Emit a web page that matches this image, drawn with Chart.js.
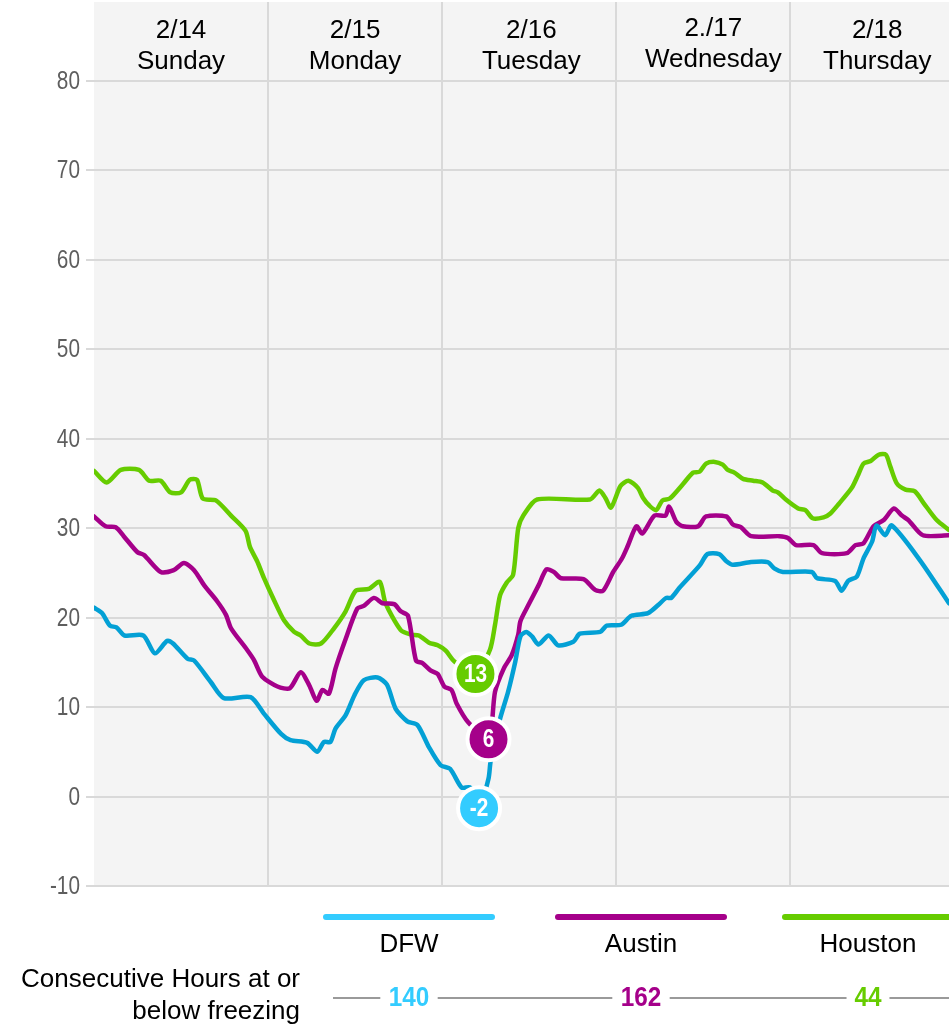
<!DOCTYPE html>
<html>
<head>
<meta charset="utf-8">
<script src="https://cdn.jsdelivr.net/npm/chart.js@4.4.1/dist/chart.umd.min.js"></script>
<style>
  body { margin: 0; background: #fff; }
  #wrap { width: 949px; height: 1028px; position: relative; }
</style>
</head>
<body>
<div id="wrap"><canvas id="chart"></canvas></div>
<script>
// hours since midnight 2/14, temperature in F
const dfwHours = [0, 1.1, 2.2, 3.1, 4.2, 6.8, 8.4, 10.1, 10.9, 12.9, 13.8, 16.1, 17.9, 21.6, 23.4, 25.8, 27.1, 29.4, 30.8, 31.7, 32.6, 33.3, 34.7, 35.9, 37.2, 39.1, 40.4, 41.6, 43.2, 44.6, 46.2, 47.8, 49.1, 50.7, 51.9, 53.1, 54.4, 54.7, 56.0, 57.1, 58.1, 58.8, 59.6, 60.4, 61.3, 62.7, 64.0, 66.1, 67.0, 69.8, 70.7, 72.7, 74.1, 76.4, 77.8, 78.9, 79.6, 80.7, 83.5, 84.6, 86.2, 87.2, 88.1, 90.6, 92.9, 93.8, 95.0, 99.0, 99.7, 102.2, 103.1, 104.0, 105.2, 106.1, 107.3, 107.9, 109.1, 110.0, 113.9, 117.9];
const dfwTemps = [21.1, 20.5, 19.1, 18.9, 18.0, 18.0, 16.0, 17.4, 17.1, 15.4, 15.2, 12.8, 11.0, 11.1, 9.3, 7.0, 6.3, 6.0, 5.0, 6.1, 6.1, 7.6, 9.1, 11.3, 13.0, 13.3, 12.5, 9.8, 8.4, 8.0, 5.5, 3.5, 3.1, 1.0, 1.0, -1.3, 2.0, 4.0, 8.7, 11.7, 15.1, 17.9, 18.4, 17.9, 17.0, 18.0, 16.9, 17.3, 18.2, 18.4, 19.1, 19.2, 20.2, 20.5, 21.4, 22.2, 22.2, 23.3, 25.8, 27.1, 27.1, 26.3, 25.9, 26.2, 26.2, 25.5, 25.1, 25.1, 24.4, 24.1, 23.0, 24.1, 24.6, 26.6, 28.5, 30.3, 29.2, 30.3, 26.4, 21.6];

const austinHours = [0, 1.6, 3.0, 4.1, 6.0, 6.9, 9.2, 11.0, 12.4, 13.8, 15.2, 17.0, 18.2, 18.9, 21.1, 22.1, 23.2, 25.3, 27.0, 28.5, 29.7, 30.7, 31.5, 32.4, 33.3, 34.7, 36.3, 37.2, 38.6, 39.8, 41.4, 42.3, 43.3, 44.4, 45.3, 46.4, 47.4, 48.3, 49.3, 50.0, 51.6, 54.4, 55.3, 56.5, 57.6, 58.5, 58.8, 59.9, 61.3, 62.4, 63.4, 64.4, 67.5, 69.1, 70.2, 71.6, 72.8, 73.6, 74.8, 75.6, 77.3, 78.8, 79.3, 80.3, 81.2, 83.3, 84.4, 87.2, 88.1, 89.2, 90.6, 94.5, 95.7, 96.8, 99.2, 100.4, 103.8, 105.0, 106.1, 107.5, 108.9, 110.3, 111.4, 112.3, 114.3, 117.9];
const austinTemps = [31.3, 30.2, 30.1, 29.1, 27.3, 27.0, 25.1, 25.3, 26.1, 25.3, 23.6, 21.8, 20.3, 18.8, 16.4, 15.2, 13.4, 12.3, 12.1, 13.9, 12.4, 10.7, 11.9, 11.5, 14.3, 17.6, 21.0, 21.3, 22.2, 21.6, 21.5, 20.7, 20.2, 15.2, 14.9, 14.1, 13.7, 12.3, 11.9, 10.4, 8.3, 6.4, 11.7, 14.3, 15.8, 18.1, 19.6, 21.4, 23.6, 25.4, 25.1, 24.4, 24.3, 23.1, 23.0, 25.1, 26.6, 28.0, 30.2, 29.4, 31.4, 31.4, 32.4, 30.7, 30.2, 30.2, 31.3, 31.3, 30.4, 30.1, 29.1, 29.1, 28.9, 28.1, 28.1, 27.2, 27.2, 28.1, 28.3, 30.2, 30.9, 32.2, 31.4, 30.9, 29.2, 29.2];

const houstonHours = [0, 1.75, 3.7, 6.2, 7.6, 9.2, 10.5, 12.0, 13.2, 14.2, 15.0, 16.8, 18.9, 20.9, 21.5, 22.5, 23.4, 24.8, 26.2, 27.6, 28.5, 29.7, 31.3, 33.1, 34.7, 36.1, 37.9, 39.4, 40.2, 42.3, 43.7, 44.8, 46.2, 47.4, 48.5, 49.7, 52.6, 54.6, 55.3, 56.0, 56.9, 57.8, 58.5, 59.2, 61.1, 68.4, 69.7, 70.5, 71.3, 72.6, 73.7, 75.0, 75.7, 76.6, 77.5, 78.4, 79.4, 81.2, 82.6, 83.5, 84.4, 85.6, 86.7, 87.4, 88.3, 89.5, 90.9, 92.2, 93.6, 94.3, 95.4, 97.1, 98.1, 99.1, 100.6, 101.5, 102.7, 104.5, 105.4, 106.1, 107.1, 108.2, 109.2, 109.8, 110.7, 111.9, 113.2, 114.4, 116.2, 117.9];
const houstonTemps = [36.4, 35.1, 36.5, 36.5, 35.3, 35.3, 34.0, 34.0, 35.4, 35.4, 33.3, 33.1, 31.4, 29.7, 27.9, 26.3, 24.5, 22.0, 19.7, 18.4, 18.0, 17.1, 17.1, 18.8, 20.7, 23.0, 23.2, 24.0, 21.6, 18.6, 18.1, 18.0, 17.2, 16.9, 16.3, 15.1, 13.7, 16.4, 19.2, 22.5, 23.9, 24.8, 30.0, 31.4, 33.2, 33.2, 34.2, 33.4, 32.3, 34.7, 35.3, 34.5, 33.4, 32.5, 32.0, 33.1, 33.3, 34.9, 36.2, 36.3, 37.2, 37.4, 37.1, 36.5, 36.2, 35.5, 35.3, 35.1, 34.2, 34.0, 33.2, 32.2, 32.0, 31.1, 31.2, 31.6, 32.7, 34.5, 36.0, 37.2, 37.5, 38.2, 38.2, 36.9, 35.0, 34.3, 34.1, 32.8, 30.9, 29.8];

const cityNames = ['DFW', 'Austin', 'Houston'];
const lowLabels = ['-2', '6', '13'];
const freezeHours = [140, 162, 44];
const dayLabels = [['2/14', 'Sunday'], ['2/15', 'Monday'], ['2/16', 'Tuesday'], ['2./17', 'Wednesday'], ['2/18', 'Thursday']];
const dayLabelHours = [12, 36, 60.3, 85.4, 108];
const dayBreakHours = [24, 48, 72, 96];
const yTicks = [-10, 0, 10, 20, 30, 40, 50, 60, 70, 80];

const lineColors = ['#03a0d5', '#a5008a', '#66cc00'];
const badgeColors = ['#33ccff', '#a5008a', '#66cc00'];

const FONT = "'Liberation Sans', Arial, sans-serif";

function toPoints(hours, temps) {
    return hours.map((h, i) => ({ x: h, y: temps[i] }));
}

// no narrow face installed, so squeeze Liberation Sans sideways
function drawNarrow(ctx, text, x, y, sx) {
    ctx.save();
    ctx.translate(x, y);
    ctx.scale(sx, 1);
    ctx.fillText(text, 0, 0);
    ctx.restore();
}

const series = [
    toPoints(dfwHours, dfwTemps),
    toPoints(austinHours, austinTemps),
    toPoints(houstonHours, houstonTemps)
];

const plotBackground = {
    id: 'plotBackground',
    beforeDraw(chart) {
        const { ctx, chartArea } = chart;
        ctx.save();
        ctx.fillStyle = '#f4f4f4';
        ctx.fillRect(chartArea.left, chartArea.top, chartArea.right - chartArea.left, chartArea.bottom - chartArea.top);
        ctx.restore();
    }
};

const yLabels = {
    id: 'yLabels',
    afterDraw(chart) {
        const ctx = chart.ctx;
        const ys = chart.scales.y;
        ctx.save();
        ctx.fillStyle = '#5e5e5e';
        ctx.font = '26px ' + FONT;
        ctx.textAlign = 'right';
        ctx.textBaseline = 'middle';
        ys.ticks.forEach(t => {
            drawNarrow(ctx, String(t.value), 80, ys.getPixelForValue(t.value) + 1, 0.8);
        });
        ctx.restore();
    }
};

const dayHeader = {
    id: 'dayHeader',
    afterDatasetsDraw(chart) {
        const ctx = chart.ctx;
        const xs = chart.scales.x;
        ctx.save();
        ctx.fillStyle = '#000';
        ctx.font = '26px ' + FONT;
        ctx.textAlign = 'center';
        ctx.textBaseline = 'middle';
        dayLabels.forEach((lines, i) => {
            const x = xs.getPixelForValue(dayLabelHours[i]);
            const lift = i === 3 ? 2 : 0;
            ctx.fillText(lines[0], x, 31 - lift);
            ctx.fillText(lines[1], x, 62 - lift);
        });
        ctx.restore();
    }
};

// white-ringed badges at each city's low point
const lowBadges = {
    id: 'lowBadges',
    afterDatasetsDraw(chart) {
        const ctx = chart.ctx;
        ctx.save();
        chart.data.datasets.forEach((ds, i) => {
            let minIdx = 0;
            ds.data.forEach((p, j) => { if (p.y < ds.data[minIdx].y) minIdx = j; });
            const pt = chart.getDatasetMeta(i).data[minIdx];
            ctx.beginPath();
            ctx.arc(pt.x, pt.y, 21, 0, Math.PI * 2);
            ctx.fillStyle = badgeColors[i];
            ctx.fill();
            ctx.lineWidth = 4;
            ctx.strokeStyle = '#fff';
            ctx.stroke();
            ctx.fillStyle = '#fff';
            ctx.font = 'bold 26px ' + FONT;
            ctx.textAlign = 'center';
            ctx.textBaseline = 'middle';
            drawNarrow(ctx, lowLabels[i], pt.x, pt.y + 1, 0.8);
        });
        ctx.restore();
    }
};

const bottomLegend = {
    id: 'bottomLegend',
    afterDraw(chart) {
        const ctx = chart.ctx;
        const centers = [409, 641, 868];
        ctx.save();
        ctx.textAlign = 'center';
        ctx.textBaseline = 'middle';

        // gray rule behind the hour counts
        ctx.font = 'bold 26px ' + FONT;
        ctx.strokeStyle = '#9a9a9a';
        ctx.lineWidth = 2;
        let from = 333;
        centers.forEach((c, i) => {
            const w = ctx.measureText(String(freezeHours[i])).width;
            ctx.beginPath();
            ctx.moveTo(from, 998);
            ctx.lineTo(c - w / 2 - 7, 998);
            ctx.stroke();
            from = c + w / 2 + 7;
        });
        ctx.beginPath();
        ctx.moveTo(from, 998);
        ctx.lineTo(chart.width, 998);
        ctx.stroke();

        centers.forEach((c, i) => {
            ctx.strokeStyle = badgeColors[i];
            ctx.lineWidth = 6;
            ctx.lineCap = 'round';
            ctx.beginPath();
            ctx.moveTo(c - 83, 917);
            ctx.lineTo(c + 83, 917);
            ctx.stroke();

            ctx.fillStyle = '#000';
            ctx.font = '26px ' + FONT;
            ctx.fillText(cityNames[i], c, 945);

            ctx.fillStyle = badgeColors[i];
            ctx.font = 'bold 27px ' + FONT;
            drawNarrow(ctx, String(freezeHours[i]), c, 999, 0.9);
        });

        ctx.fillStyle = '#000';
        ctx.font = '26px ' + FONT;
        ctx.textAlign = 'right';
        ctx.fillText('Consecutive Hours at or', 300, 980);
        ctx.fillText('below freezing', 300, 1012);
        ctx.restore();
    }
};

new Chart(document.getElementById('chart'), {
    type: 'line',
    data: {
        datasets: series.map((data, i) => ({
            label: cityNames[i],
            data: data,
            borderColor: lineColors[i],
            borderWidth: 4.5,
            borderJoinStyle: 'round',
            borderCapStyle: 'round',
            tension: 0.25,
            pointRadius: 0,
            fill: false
        }))
    },
    options: {
        responsive: true,
        maintainAspectRatio: false,
        animation: false,
        layout: { padding: { top: 2, bottom: 142, left: 0, right: 0 } },
        plugins: {
            legend: { display: false },
            tooltip: { enabled: false }
        },
        scales: {
            x: {
                type: 'linear',
                min: 0,
                max: 117.9,
                afterBuildTicks: (scale) => { scale.ticks = dayBreakHours.map(v => ({ value: v })); },
                afterFit: (scale) => { scale.height = 0; scale.paddingLeft = 0; scale.paddingRight = 0; },
                ticks: { display: false },
                border: { display: false },
                grid: { color: '#d9d9d9', lineWidth: 2, drawTicks: false }
            },
            y: {
                min: -10,
                max: 88.8,
                afterBuildTicks: (scale) => { scale.ticks = yTicks.map(v => ({ value: v })); },
                afterFit: (scale) => { scale.width = 94; scale.paddingTop = 0; scale.paddingBottom = 0; },
                ticks: { display: false },
                border: { display: false },
                grid: { color: '#d9d9d9', lineWidth: 2, tickLength: 8 }
            }
        }
    },
    plugins: [plotBackground, yLabels, dayHeader, lowBadges, bottomLegend]
});
</script>
</body>
</html>
